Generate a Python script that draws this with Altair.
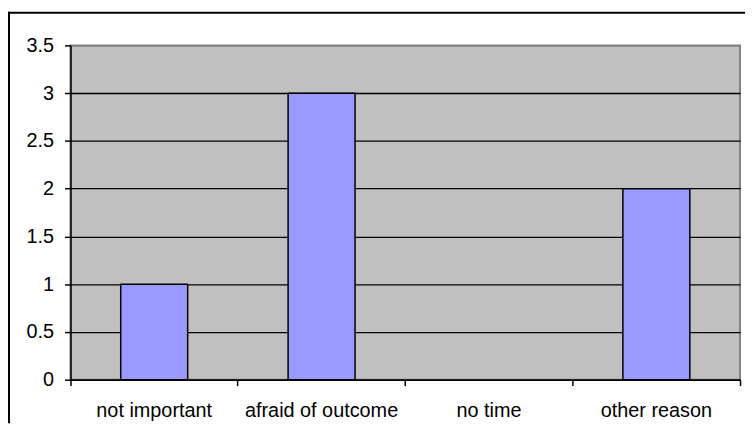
import altair as alt
import pandas as pd

categories = ["not important", "afraid of outcome", "no time", "other reason"]
values = [1, 3, 0, 2]
y_ticks = [0, 0.5, 1, 1.5, 2, 2.5, 3, 3.5]

df = pd.DataFrame({"category": categories, "value": values})
frame_df = pd.DataFrame({"k": [0]})

FONT = "Liberation Sans"

bars = alt.Chart(df).mark_bar(
    color="#9999FF", stroke="black", strokeWidth=1.5,
    width=alt.RelativeBandSize(0.4),
).encode(
    x=alt.X(
        "category:N",
        sort=categories,
        scale=alt.Scale(paddingInner=0, paddingOuter=0),
        axis=alt.Axis(
            title=None, labelAngle=0, grid=False, ticks=True,
            bandPosition=1, tickExtra=True,
            domainColor="black", domainWidth=1.5, tickColor="black", tickSize=6,
            tickWidth=1.5, labelPadding=15, labelFontSize=20, labelFont=FONT,
            labelColor="black",
        ),
    ),
    y=alt.Y(
        "value:Q",
        scale=alt.Scale(domain=[0, 3.5], nice=False),
        axis=alt.Axis(
            title=None, values=y_ticks, format="~g",
            domainColor="black", domainWidth=1.5, tickColor="black", tickSize=6,
            tickWidth=1.5, labelPadding=11, labelFontSize=20, labelFont=FONT,
            labelColor="black",
            gridColor=alt.condition("datum.value == 3.5", alt.value("#808080"), alt.value("black")),
            gridWidth=1.3, gridOpacity=1,
        ),
    ),
    strokeOpacity=alt.condition("datum.value > 0", alt.value(1), alt.value(0)),
)

top_line = alt.Chart(frame_df).mark_rule(color="black", strokeWidth=2).encode(
    x=alt.value(-63), x2=alt.value(680), y=alt.value(-33)
)
left_line = alt.Chart(frame_df).mark_rule(color="black", strokeWidth=2).encode(
    x=alt.value(-62), y=alt.value(-34), y2=alt.value(381)
)

chart = alt.layer(top_line, left_line, bars).properties(
    width=675, height=337,
    autosize=alt.AutoSizeParams(type="none"),
    padding={"left": 63, "top": 36, "right": 5, "bottom": 44},
    background="white",
).configure_view(
    fill="#C0C0C0", stroke="#808080", strokeWidth=2
)

chart.save("out.html", embed_options={"renderer": "svg", "actions": False})
